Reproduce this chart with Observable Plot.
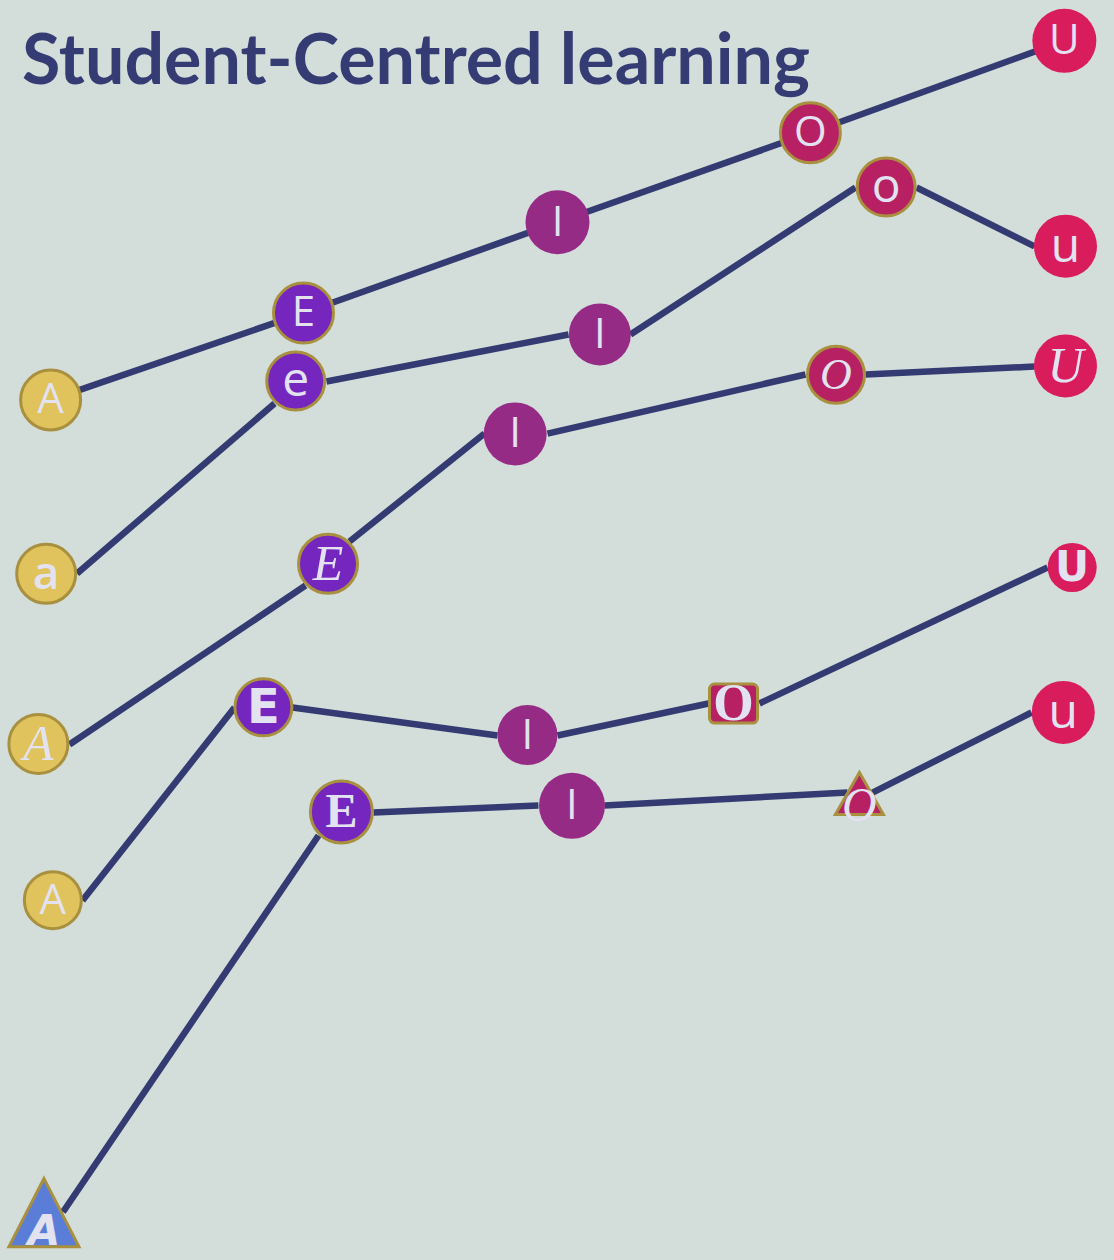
<!DOCTYPE html>
<html>
<head>
<meta charset="utf-8">
<script src="https://cdn.jsdelivr.net/npm/d3@7"></script>
<script src="https://cdn.jsdelivr.net/npm/@observablehq/plot@0.6"></script>
<style>
  html, body { margin: 0; padding: 0; background: #d3ddd9; }
  #wrap { position: relative; width: 1114px; height: 1260px; overflow: hidden; background: #d3ddd9; }
  #wrap svg { position: absolute; left: 0; top: 0; }
  #title { position: absolute; left: 22px; top: 22px; margin: 0; font-family: Lato, "Open Sans", sans-serif;
           font-weight: 700; font-size: 70px; line-height: 1; color: #343c73; white-space: nowrap; transform-origin: 0 0; }
</style>
</head>
<body>
<div id="wrap"></div>
<script>
// ---- data ----
const series = ["Row 1", "Row 2", "Row 3", "Row 4", "Row 5"];
const steps = ["A", "E", "I", "O", "U"];

const letters1 = ["A", "E", "I", "O", "U"];
const letters2 = ["a", "e", "I", "o", "u"];
const letters3 = ["A", "E", "I", "O", "U"];
const letters4 = ["A", "E", "I", "O", "U"];
const letters5 = ["A", "E", "I", "O", "u"];

// marker centres
const x1 = [4.5, 27.2, 50.0, 72.7, 95.5];
const y1 = [68.3, 75.2, 82.4, 89.5, 96.8];
const x2 = [4.1, 26.5, 53.8, 79.5, 95.6];
const y2 = [54.5, 69.8, 73.5, 85.2, 80.5];
const x3 = [3.4, 29.4, 46.2, 75.0, 95.6];
const y3 = [41.0, 55.3, 65.6, 70.3, 71.0];
const x4 = [4.7, 23.6, 47.3, 65.8, 96.2];
const y4 = [28.6, 43.9, 41.7, 44.2, 55.0];
const x5 = [3.9, 30.6, 51.3, 77.1, 95.4];
const y5 = [2.9, 35.6, 36.1, 36.5, 43.5];

// connector segments [fromX, fromY, toX, toY] (rows 2-5 join shape edges; row 1 joins centres)
const seg2 = [[6.87, 54.52, 24.60, 68.02], [29.26, 69.76, 50.99, 73.49], [56.55, 73.49, 76.75, 85.16], [82.23, 85.16, 92.82, 80.48]];
const seg3 = [[6.19, 40.95, 27.38, 53.57], [31.33, 57.06, 43.45, 65.63], [49.10, 65.63, 72.26, 70.32], [77.65, 70.32, 92.82, 70.95]];
const seg4 = [[7.36, 28.57, 21.01, 43.89], [26.21, 43.89, 44.61, 41.67], [50.00, 41.67, 63.55, 44.21], [68.13, 44.21, 93.99, 55.00]];
const seg5 = [[5.61, 3.85, 28.55, 33.73], [33.48, 35.56, 48.29, 36.11], [54.22, 36.11, 76.03, 37.14], [78.28, 37.14, 92.55, 43.49]];

const xs = [x1, x2, x3, x4, x5];
const ys = [y1, y2, y3, y4, y5];
const letters = [letters1, letters2, letters3, letters4, letters5];
const seg1 = x1.slice(1).map((x, k) => [x1[k], y1[k], x, y1[k + 1]]);
const segs = [seg1, seg2, seg3, seg4, seg5];

const points = series.flatMap((s, i) =>
  xs[i].map((x, j) => ({ series: s, step: steps[j], i, j, x, y: ys[i][j], label: letters[i][j] }))
);
const links = series.flatMap((s, i) =>
  segs[i].map(([a, b, c, d]) => ({ series: s, x1: a, y1: b, x2: c, y2: d }))
);

// ---- styles ----
const C = { A: "#e0c35c", E: "#7526bf", I: "#962b86", O: "#b72063", U: "#d81c5c", T: "#5a7ed8" };
const GOLD = "#a8903e";
const SANS = "'Open Sans', 'Noto Sans', sans-serif";
const SERIF_I = "'Liberation Serif', 'DejaVu Serif', serif";
const HEAVY = "'DejaVu Sans', 'Liberation Sans', sans-serif";

function triangle(w, h) {
  return { draw(ctx) { ctx.moveTo(0, -h * 2 / 3); ctx.lineTo(w / 2, h / 3); ctx.lineTo(-w / 2, h / 3); ctx.closePath(); } };
}
function roundRect(w, h, rr) {
  return { draw(ctx) {
    const x0 = -w / 2, y0 = -h / 2, x1 = w / 2, y1 = h / 2;
    ctx.moveTo(x0 + rr, y0);
    ctx.lineTo(x1 - rr, y0); ctx.arcTo(x1, y0, x1, y0 + rr, rr);
    ctx.lineTo(x1, y1 - rr); ctx.arcTo(x1, y1, x1 - rr, y1, rr);
    ctx.lineTo(x0 + rr, y1); ctx.arcTo(x0, y1, x0, y1 - rr, rr);
    ctx.lineTo(x0, y0 + rr); ctx.arcTo(x0, y0, x0 + rr, y0, rr);
    ctx.closePath();
  } };
}

const styles = [
  [ // row 1
    { r: 30, fill: C.A, stroke: GOLD, font: SANS, size: 42 },
    { r: 30, fill: C.E, stroke: GOLD, font: SANS, size: 42 },
    { r: 32, fill: C.I, font: SANS, size: 42 },
    { r: 30, fill: C.O, stroke: GOLD, font: SANS, size: 42 },
    { r: 32, fill: C.U, font: SANS, size: 42 }
  ],
  [ // row 2
    { r: 29.5, fill: C.A, stroke: GOLD, font: SANS, size: 46, weight: 600, sx: 0.9, sy: 1.4 },
    { r: 29, fill: C.E, stroke: GOLD, font: SANS, size: 48 },
    { r: 31, fill: C.I, font: SANS, size: 42 },
    { r: 29, fill: C.O, stroke: GOLD, font: SANS, size: 48 },
    { r: 31.5, fill: C.U, font: SANS, size: 48 }
  ],
  [ // row 3
    { r: 29.5, fill: C.A, stroke: GOLD, font: SERIF_I, size: 50, style: "italic" },
    { r: 29.5, fill: C.E, stroke: GOLD, font: SERIF_I, size: 50, style: "italic" },
    { r: 31.5, fill: C.I, font: SANS, size: 42 },
    { r: 28.5, fill: C.O, stroke: GOLD, font: SERIF_I, size: 44, style: "italic" },
    { r: 31.5, fill: C.U, font: SERIF_I, size: 50, style: "italic" }
  ],
  [ // row 4
    { r: 28.5, fill: C.A, stroke: GOLD, font: SANS, size: 42 },
    { r: 28.5, fill: C.E, stroke: GOLD, font: HEAVY, size: 48, weight: 700, sx: 1.1 },
    { r: 30, fill: C.I, font: SANS, size: 42 },
    { symbol: roundRect(48, 39, 5), fill: C.O, stroke: GOLD, font: SERIF_I, size: 52, weight: 700, sx: 0.62 },
    { r: 24.5, fill: C.U, font: HEAVY, size: 42, weight: 700, sx: 0.9 }
  ],
  [ // row 5
    { symbol: triangle(70, 68), fill: C.T, stroke: GOLD, font: HEAVY, size: 42, weight: 700, style: "italic", dy: 8 },
    { r: 31, fill: C.E, stroke: GOLD, font: SERIF_I, size: 48, weight: 700 },
    { r: 33, fill: C.I, font: SANS, size: 42 },
    { symbol: triangle(48, 42), fill: C.O, stroke: GOLD, font: SERIF_I, size: 48, style: "italic", dy: 5, sx: 0.8 },
    { r: 31.5, fill: C.U, font: SANS, size: 48 }
  ]
];

const marks = [
  Plot.link(links, { x1: "x1", y1: "y1", x2: "x2", y2: "y2", stroke: "#333b72", strokeWidth: 6.5 })
];
for (const p of points) {
  const st = styles[p.i][p.j];
  marks.push(Plot.dot([p], {
    x: "x", y: "y",
    r: st.r || 30,
    symbol: st.symbol || "circle",
    fill: st.fill,
    stroke: st.stroke || "none",
    strokeWidth: 3
  }));
  marks.push(Plot.text([p], {
    x: "x", y: "y", text: "label",
    fill: "#e2e2f1",
    fontFamily: st.font,
    fontSize: st.size,
    fontWeight: st.weight || 400,
    fontStyle: st.style || "normal",
    dy: st.dy || 0,
    ariaLabel: `glyph-${p.i}-${p.j}`
  }));
}

const chart = Plot.plot({
  width: 1114,
  height: 1260,
  margin: 0,
  x: { domain: [0, 100], range: [0, 1114], axis: null },
  y: { domain: [0, 100], range: [1260, 0], axis: null },
  style: { background: "none", overflow: "visible" },
  marks
});

const wrap = document.getElementById("wrap");
wrap.appendChild(chart);

// squeeze / stretch some glyphs
points.forEach(p => {
  const st = styles[p.i][p.j];
  if (!st.sx && !st.sy) return;
  chart.querySelectorAll(`g[aria-label="glyph-${p.i}-${p.j}"] text`).forEach(el => {
    const t = el.getAttribute("transform") || "";
    const x = +el.getAttribute("x") || 0, y = +el.getAttribute("y") || 0;
    el.removeAttribute("x"); el.removeAttribute("y");
    el.setAttribute("transform", `${t} translate(${x},${y}) scale(${st.sx || 1},${st.sy || 1})`);
  });
});

const title = document.createElement("div");
title.id = "title";
title.textContent = "Student-Centred learning";
wrap.appendChild(title);
const fit = () => {
  const w = title.getBoundingClientRect().width / (title._s || 1);
  title._s = 788 / w;
  title.style.transform = `scaleX(${title._s})`;
};
fit();
if (document.fonts && document.fonts.ready) document.fonts.ready.then(fit);
</script>
</body>
</html>
